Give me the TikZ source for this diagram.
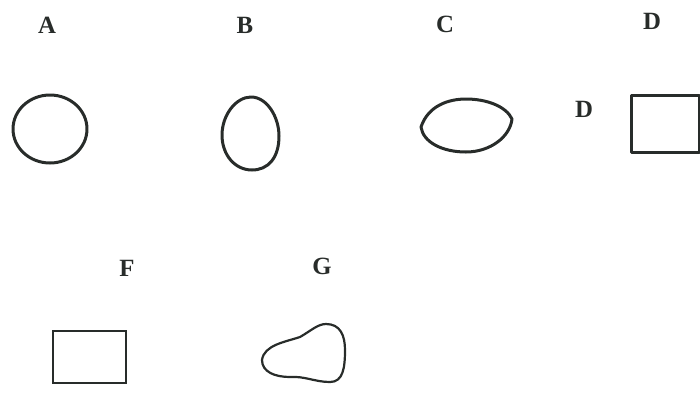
\documentclass[tikz,border=0pt]{standalone}
\usepackage{fontspec}
\setmainfont{Liberation Serif}
\usepackage{xcolor}
\definecolor{inkgrey}{RGB}{40,44,42}

\begin{document}
\begin{tikzpicture}[x=0.5pt, y=-0.5pt,
    shape line/.style={inkgrey, line width=1.5pt, line join=round},
    letter/.style={inkgrey, font=\fontsize{12.4}{14}\selectfont\bfseries}]
        \useasboundingbox (0,0) rectangle (700,397);

        % Labels
        \node[letter] (labA) at (47,25) {A};
        \node[letter] (labB) at (245,25) {B};
        \node[letter] (labC) at (445,24) {C};
        \node[letter] (labD) at (652,21) {D};
        \node[letter] (labDD) at (584,109) {D};
        \node[letter] (labF) at (127,268) {F};
        \node[letter] (labG) at (322,266) {G};

        % Top row
        \draw[shape line] (50,129) ellipse (37 and 34);
        \draw[shape line] (251,97) .. controls (267,97) and (279,117) .. (279,136)
          .. controls (279,158) and (268,170) .. (252,170)
          .. controls (235,170) and (222,155) .. (222,135)
          .. controls (222,115) and (236,97) .. (251,97) -- cycle;
        \draw[shape line] (421,127) .. controls (428,106) and (448,99) .. (466,99)
          .. controls (486,99) and (506,106) .. (512,119)
          .. controls (510,137) and (490,152) .. (466,152)
          .. controls (442,152) and (423,142) .. (421,127) -- cycle;
        \draw[shape line] (631,95) rectangle (699,152);

        % Bottom row
        \draw[inkgrey, line width=1pt] (53,331) rectangle (126,383);
        \draw[shape line, line width=1.1pt] (262,360) .. controls (264,345) and (285,342) .. (300,337)
          .. controls (312,330) and (318,324) .. (326,324)
          .. controls (340,324) and (345,335) .. (345,350)
          .. controls (345,368) and (343,382) .. (330,382)
          .. controls (315,382) and (305,376) .. (290,377)
          .. controls (275,377) and (262,372) .. (262,360) -- cycle;
      \end{tikzpicture}
\end{document}
